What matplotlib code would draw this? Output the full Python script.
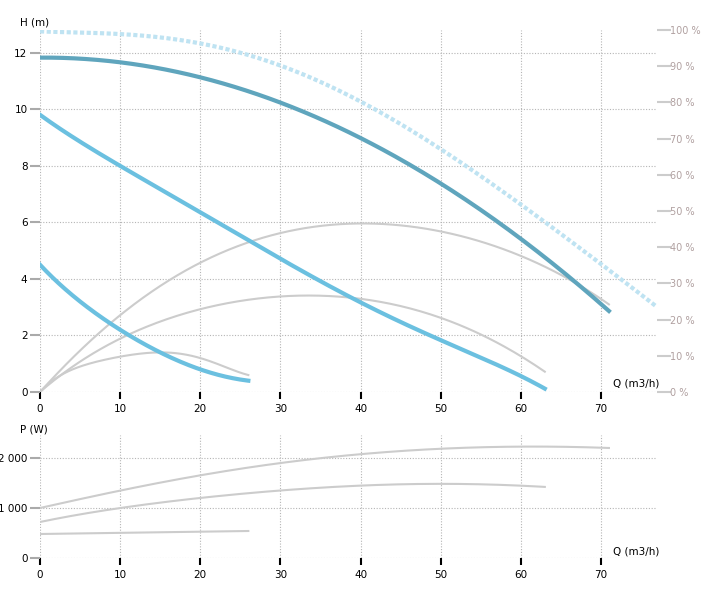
import numpy as np
import matplotlib
matplotlib.use("Agg")
import matplotlib.pyplot as plt

# pump head curves H (m) vs Q (m3/h)
q_max = [0, 10, 20, 30, 40, 50, 60, 70, 77]
h_max = [12.75, 12.65, 12.35, 11.5, 10.3, 8.6, 6.6, 4.55, 3.0]
q_top = [0, 5, 10, 15, 20, 25, 30, 35, 40, 45, 50, 55, 60, 65, 71]
h_top = [11.8, 11.8, 11.7, 11.45, 11.1, 10.7, 10.2, 9.65, 9.0, 8.25, 7.4, 6.45, 5.4, 4.25, 2.9]
q_mid = [0, 10, 20, 30, 40, 50, 60, 63]
h_mid = [9.8, 8.0, 6.35, 4.7, 3.2, 1.8, 0.6, 0.1]
q_low = [0, 5, 10, 15, 20, 26]
h_low = [4.5, 3.2, 2.2, 1.4, 0.8, 0.4]
# efficiency curves (drawn on head scale)
e_top = [0, 2.7, 4.6, 5.6, 5.95, 5.7, 4.8, 3.1]
qe_top = [0, 10, 20, 30, 40, 50, 60, 71]
e_mid = [0, 1.9, 2.9, 3.4, 3.3, 2.6, 1.3, 0.7]
qe_mid = [0, 10, 20, 30, 40, 50, 60, 63]
e_low = [0, 0.9, 1.25, 1.4, 1.2, 0.6]
qe_low = [0, 5, 10, 15, 20, 26]
# power curves
p_top = [1000, 1350, 1650, 1900, 2080, 2180, 2230, 2200]
p_mid = [720, 1000, 1200, 1350, 1450, 1480, 1450, 1420]
p_low = [480, 540]
qp_low = [0, 26]

def smooth(x, y, deg=5, n=200):
    xs = np.linspace(x[0], x[-1], n)
    c = np.polyfit(x, y, min(len(x) - 1, deg))
    return xs, np.polyval(c, xs)

fig = plt.figure(figsize=(7.07, 5.96), dpi=100)
ax = fig.add_axes([40/707, 1 - 392/596, 617/707, 362/596])
ax2 = fig.add_axes([40/707, 1 - 558/596, 617/707, 123/596])

for a in (ax, ax2):
    for s in a.spines.values():
        s.set_visible(False)
    a.set_xlim(0, 77)
    a.grid(True, ls=(0, (1, 1.5)), color="#b5b5b5", lw=0.8)
    a.set_xticks(range(0, 80, 10))
    a.tick_params(axis="x", length=5, width=1.5, color="black", labelsize=7.5)
    a.tick_params(axis="y", length=7, width=1.5, color="#aaaaaa", labelsize=7.5, pad=2)

ax.set_ylim(0, 12.8)
ax.set_yticks(range(0, 13, 2))
gray = "#cccccc"
for qx, ex in ((qe_top, e_top), (qe_mid, e_mid), (qe_low, e_low)):
    ax.plot(*smooth(qx, ex), color=gray, lw=1.5)
ax.plot(*smooth(q_max, h_max), color="#bfe3f2", lw=3, ls=(0, (1, 0.6)))
ax.plot(*smooth(q_top, h_top, deg=4), color="#5fa5bd", lw=3)
ax.plot(*smooth(q_mid, h_mid), color="#6bc0e0", lw=3)
ax.plot(*smooth(q_low, h_low), color="#6bc0e0", lw=3)
ax.text(-2.5, 12.95, "H (m)", fontsize=7.5)
ax.text(71.5, 0.2, "Q (m3/h)", fontsize=7.5)

axr = ax.twinx()
for s in axr.spines.values():
    s.set_visible(False)
axr.set_ylim(0, 100)
axr.set_yticks(range(0, 101, 10))
axr.set_yticklabels([f"{v} %" for v in range(0, 101, 10)], color="#b0a0a0")
axr.tick_params(axis="y", length=10, width=1.5, color="#cccccc", labelsize=7, pad=-1)

ax2.set_ylim(0, 2460)
ax2.set_yticks([0, 1000, 2000])
ax2.set_yticklabels(["0", "1 000", "2 000"])
qp = [0, 10, 20, 30, 40, 50, 60, 71]
ax2.plot(*smooth(qp, p_top), color=gray, lw=1.5)
ax2.plot(*smooth(qe_mid, p_mid), color=gray, lw=1.5)
ax2.plot(qp_low, p_low, color=gray, lw=1.5)
ax2.text(-2.5, 2520, "P (W)", fontsize=7.5)
ax2.text(71.5, 70, "Q (m3/h)", fontsize=7.5)

fig.savefig("out.png", dpi=100)
